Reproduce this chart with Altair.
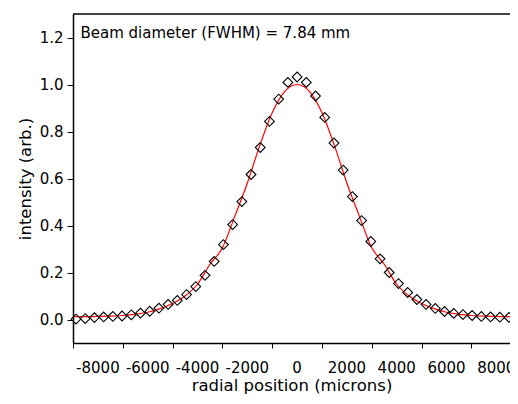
import altair as alt
import pandas as pd

# measured data (diamonds)
pos = [-8880, -8510, -8140, -7770, -7400, -7030, -6660, -6290, -5920, -5550,
       -5180, -4810, -4440, -4070, -3700, -3330, -2960, -2590, -2220, -1850,
       -1480, -1110, -740, -370, 0, 370, 740, 1110, 1480, 1850,
       2220, 2590, 2960, 3330, 3700, 4070, 4440, 4810, 5180, 5550,
       5920, 6290, 6660, 7030, 7400, 7770, 8140, 8510, 8880]
inten = [0.002, 0.004, 0.008, 0.011, 0.013, 0.015, 0.020, 0.027, 0.035, 0.048,
         0.064, 0.081, 0.106, 0.140, 0.188, 0.247, 0.319, 0.404, 0.502, 0.617,
         0.732, 0.843, 0.938, 1.009, 1.032, 1.009, 0.951, 0.860, 0.751, 0.636,
         0.523, 0.421, 0.332, 0.258, 0.200, 0.153, 0.115, 0.085, 0.064, 0.047,
         0.034, 0.026, 0.021, 0.017, 0.013, 0.011, 0.010, 0.009, 0.008]

# fitted curve (red)
fit_x = [-9000, -8500, -8000, -7500, -7000, -6500, -6000, -5500, -5000, -4500,
         -4000, -3500, -3000, -2500, -2000, -1500, -1000, -500, 0,
         500, 1000, 1500, 2000, 2500, 3000, 3500, 4000, 4500, 5000,
         5500, 6000, 6500, 7000, 7500, 8000, 8500, 9000]
fit_y = [0.012, 0.012, 0.013, 0.014, 0.017, 0.022, 0.031, 0.046, 0.068, 0.100,
         0.150, 0.235, 0.305, 0.440, 0.580, 0.740, 0.880, 0.970, 1.000,
         0.970, 0.880, 0.740, 0.580, 0.440, 0.305, 0.235, 0.150, 0.100, 0.068,
         0.046, 0.031, 0.022, 0.017, 0.014, 0.013, 0.012, 0.012]

x_ticks = [-9000, -8000, -7000, -6000, -5000, -4000, -3000, -2000, -1000, 0,
           1000, 2000, 3000, 4000, 5000, 6000, 7000, 8000]
x_label_values = [-8000, -6000, -4000, -2000, 0, 2000, 4000, 6000, 8000]
x_label_texts = ["-8000", "-6000", "-4000", "-2000", "0", "2000", "4000", "6000", "8000"]
x_label_level = -0.228   # just below the axis, in data units
y_ticks = [0.0, 0.1, 0.2, 0.3, 0.4, 0.5, 0.6, 0.7, 0.8, 0.9, 1.0, 1.1, 1.2]
y_top = [1.3]

label_text = ["Beam diameter (FWHM) = 7.84 mm"]
label_x = [-8700]
label_y = [1.2]

pts = pd.DataFrame({"x": pos, "y": inten})
fit = pd.DataFrame({"x": fit_x, "y": fit_y})
lab = pd.DataFrame({"x": label_x, "y": label_y, "t": label_text})
top = pd.DataFrame({"y": y_top})
xlab = pd.DataFrame({"x": x_label_values, "t": x_label_texts,
                     "y": [x_label_level] * len(x_label_values)})

FONT = "DejaVu Sans"
xscale = alt.Scale(domain=[-9000, 8550], nice=False, zero=False)
yscale = alt.Scale(domain=[-0.1, 1.3], nice=False, zero=False)

xaxis = alt.Axis(
    values=x_ticks,
    labels=False,
    tickSize=5,
    title="radial position (microns)",
    grid=False, titleFont=FONT, titleFontSize=16.5,
    titleFontWeight="normal", titleColor="black",
    domainColor="black", domainWidth=1.5, tickColor="black", tickWidth=1,
    titlePadding=29,
)
yaxis = alt.Axis(
    values=y_ticks,
    format=".1f",
    labelExpr="round(datum.value*10) % 2 == 0 ? datum.label : ''",
    tickSize={"condition": {"test": "round(datum.value*10) % 2 == 0", "value": 6}, "value": 3},
    title="intensity (arb.)",
    grid=False, labelFont=FONT, labelFontSize=15, titleFont=FONT, titleFontSize=16.5,
    titleFontWeight="normal", labelColor="black", titleColor="black",
    domainColor="black", domainWidth=1.5, tickColor="black", tickWidth=1,
    labelPadding=4, titlePadding=6, labelFlush=False, labelOverlap=False,
)

line = alt.Chart(fit).mark_line(color="#ff0000", strokeWidth=1.2, interpolate="monotone").encode(
    x=alt.X("x:Q", scale=xscale, axis=xaxis),
    y=alt.Y("y:Q", scale=yscale, axis=yaxis),
)
points = alt.Chart(pts).mark_point(shape="diamond", size=95, filled=False, color="black",
                                   strokeWidth=1.1, opacity=1).encode(
    x=alt.X("x:Q", scale=xscale),
    y=alt.Y("y:Q", scale=yscale),
)
text = alt.Chart(lab).mark_text(align="left", baseline="alphabetic", font=FONT, fontSize=15,
                                color="black").encode(
    x=alt.X("x:Q", scale=xscale),
    y=alt.Y("y:Q", scale=yscale),
    text="t:N",
)
xlabels = alt.Chart(xlab).mark_text(align="center", baseline="alphabetic", font=FONT,
                                    fontSize=15, color="black").encode(
    x=alt.X("x:Q", scale=xscale),
    y=alt.Y("y:Q", scale=yscale),
    text="t:N",
)
frame_top = alt.Chart(top).mark_rule(color="black", strokeWidth=1.5).encode(
    y=alt.Y("y:Q", scale=yscale),
)

chart = alt.layer(line, points, text, xlabels, frame_top).properties(
    width=437, height=329,
    autosize=alt.AutoSizeParams(type="none"),
    padding={"left": 65, "top": 6, "right": 0, "bottom": 53},
    background="white",
).configure_view(stroke=None)

chart.save("out.html", embed_options={"renderer": "svg", "actions": False})
